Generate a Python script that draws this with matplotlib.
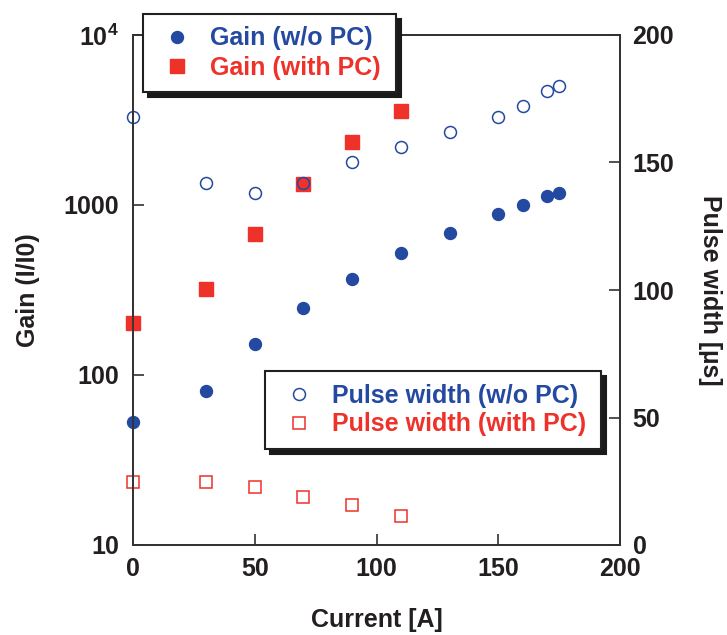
import matplotlib
matplotlib.use("Agg")
import matplotlib.pyplot as plt
from matplotlib.ticker import FixedLocator, FixedFormatter, NullLocator

plt.rcParams['font.family'] = ['Liberation Sans', 'DejaVu Sans']
plt.rcParams['font.weight'] = 'bold'
plt.rcParams['mathtext.fontset'] = 'custom'
plt.rcParams['mathtext.bf'] = 'Liberation Sans:bold'
plt.rcParams['mathtext.rm'] = 'Liberation Sans:bold'

# gain data (left, log axis)
current_gain = [0, 30, 50, 70, 90, 110, 130, 150, 160, 170, 175]
gain_wo_pc = [53, 80, 153, 248, 367, 522, 684, 889, 1000, 1130, 1172]
current_gain_pc = [0, 30, 50, 70, 90, 110]
gain_with_pc = [201, 319, 675, 1324, 2339, 3570]

# pulse width data (right, linear axis)
current_pw = [0, 30, 50, 70, 90, 110, 130, 150, 160, 170, 175]
pw_wo_pc = [168, 142, 138, 142, 150, 156, 162, 168, 172, 178, 180]
current_pw_pc = [0, 30, 50, 70, 90, 110]
pw_with_pc = [24.6, 24.6, 22.6, 18.7, 15.6, 11.5]

xticks = [0, 50, 100, 150, 200]
gain_ticks = [10, 100, 1000, 10000]
gain_ticklabels = ['10', '100', '1000', r'$\mathbf{10^{4}}$']
pw_ticks = [0, 50, 100, 150, 200]

blue = '#2449a0'
red = '#ee3129'
dark = '#231f20'

fig = plt.figure(figsize=(7.27, 6.35), dpi=100)
ax = fig.add_axes([133 / 727, 1 - 545 / 635, (620 - 133) / 727, (545 - 35) / 635])
ax2 = ax.twinx()

h1, = ax.plot(current_gain, gain_wo_pc, 'o', color=blue, ms=8.6, mec=blue,
              label='Gain (w/o PC)', clip_on=False, zorder=3)
h2, = ax.plot(current_gain_pc, gain_with_pc, 's', color=red, ms=9.4, mec=red,
              label='Gain (with PC)', clip_on=False, zorder=3)
h3, = ax2.plot(current_pw, pw_wo_pc, 'o', mfc='none', mec=blue, mew=1.1, ms=8.6,
               label='Pulse width (w/o PC)', clip_on=False)
h4, = ax2.plot(current_pw_pc, pw_with_pc, 's', mfc='none', mec=red, mew=1.1, ms=8.8,
               label='Pulse width (with PC)', clip_on=False)

ax.set_xlim(0, 200)
ax.set_yscale('log')
ax.set_ylim(10, 10000)
ax2.set_ylim(0, 200)

ax.xaxis.set_major_locator(FixedLocator(xticks))
ax.yaxis.set_major_locator(FixedLocator(gain_ticks))
ax.yaxis.set_major_formatter(FixedFormatter(gain_ticklabels))
ax.yaxis.set_minor_locator(NullLocator())
ax2.yaxis.set_major_locator(FixedLocator(pw_ticks))

for a in (ax, ax2):
    for s in a.spines.values():
        s.set_color('#333333')
        s.set_linewidth(1.3)
ax.tick_params(axis='x', direction='in', length=8, width=1.1, pad=9,
               labelsize=18, colors=dark, top=False)
ax.tick_params(axis='y', direction='in', length=8, width=1.1, pad=10,
               labelsize=18, colors=dark, right=False)
ax2.tick_params(axis='y', direction='in', length=8, width=1.1, pad=9,
                labelsize=18, colors=dark)

ax.set_xlabel('Current [A]', fontsize=18, fontweight='bold', color=dark)
ax.xaxis.set_label_coords(0.5, -0.147)
ax.xaxis.label.set_va('center')
ax.set_ylabel('Gain (I/I0)', fontsize=18, fontweight='bold', color=dark)
ax.yaxis.set_label_coords(-0.215, 0.5)
ax.yaxis.label.set_va('center')
ax2.set_ylabel('Pulse width [µs]', fontsize=18, fontweight='bold', color=dark,
               rotation=270)
ax2.yaxis.set_label_coords(1.184, 0.5)
ax2.yaxis.label.set_va('center')

shadow = {'color': '#1a1a1a', 'alpha': 1, 'ox': 3.5, 'oy': -3.5}
leg_kw = dict(loc='upper left', mode='expand', fontsize=18, frameon=True,
              fancybox=False, shadow=shadow, borderpad=0.5, labelspacing=0.2,
              handletextpad=0.45, handlelength=1.75, borderaxespad=0)
leg1 = fig.legend(handles=[h1, h2],
                  bbox_to_anchor=(143 / 727, 1 - 88 / 635, (396 - 143) / 727, (88 - 14) / 635),
                  **leg_kw)
leg2 = fig.legend(handles=[h3, h4],
                  bbox_to_anchor=(265 / 727, 1 - 446 / 635, (601 - 265) / 727, (446 - 371) / 635),
                  **leg_kw)
for leg in (leg1, leg2):
    fr = leg.get_frame()
    fr.set_edgecolor(dark)
    fr.set_linewidth(1.5)
    fr.set_alpha(1)
    for t, c in zip(leg.get_texts(), [blue, red]):
        t.set_color(c)
        t.set_fontweight('bold')

fig.savefig('out.png', dpi=100)
